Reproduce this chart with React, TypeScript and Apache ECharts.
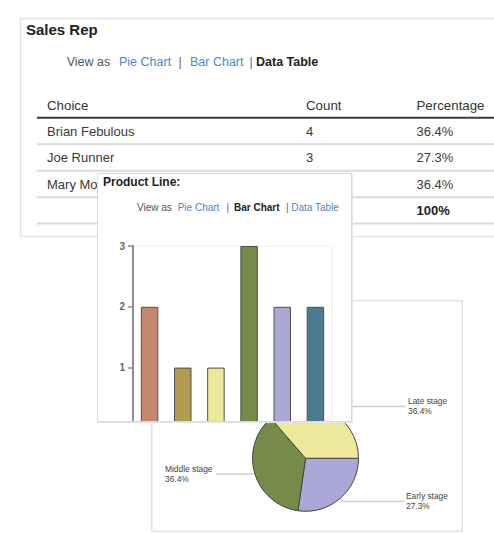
import React, { useEffect, useRef } from 'react';
import * as echarts from 'echarts';

const FONT = '"Liberation Sans", Arial, Helvetica, sans-serif';

// ---- Sales Rep data table ----
const tableHeaders = ['Choice', 'Count', 'Percentage'];
const repNames = ['Brian Febulous', 'Joe Runner', 'Mary Mo'];
const repCounts = [4, 3, 4];
const totalLabel = '100%';

// ---- Product Line bar chart ----
const productLines = ['Line 1', 'Line 2', 'Line 3', 'Line 4', 'Line 5', 'Line 6'];
const productCounts = [2, 1, 1, 3, 2, 2];
const productColors = ['#c4896a', '#b39b50', '#ede89a', '#758b4a', '#aba8d8', '#4a7b8f'];

// ---- Stage pie chart ----
const stageNames = ['Early stage', 'Middle stage', 'Late stage'];
const stageCounts = [3, 4, 4];
const stageColors = ['#aba8d8', '#758b4a', '#ede89a'];

const LINK = '#4f86c6';
const SEP = '#8a4f80';
const TXT = '#3a3a3a';

function useChart(option: any) {
  const ref = useRef<HTMLDivElement>(null);
  useEffect(() => {
    if (!ref.current) return;
    const chart = echarts.init(ref.current, undefined, { renderer: 'svg' });
    chart.setOption(option);
    return () => chart.dispose();
  }, []);
  return ref;
}

function txt(text: string, x: number, y: number, opts: any = {}) {
  return {
    type: 'text',
    x,
    y,
    style: {
      text,
      fill: opts.fill || TXT,
      fontSize: opts.fontSize || 13,
      fontWeight: opts.fontWeight || 'normal',
      fontFamily: FONT,
      align: 'left',
      verticalAlign: 'middle',
      textAlign: 'left',
      textVerticalAlign: 'middle',
    },
  };
}

function hline(x1: number, x2: number, y: number, color: string, w: number) {
  return {
    type: 'line',
    shape: { x1, y1: y, x2, y2: y },
    style: { stroke: color, lineWidth: w },
  };
}

function viewAs(x: number[], y: number, size: number, active: number) {
  const labels = ['View as', 'Pie Chart', '|', 'Bar Chart', '|', 'Data Table'];
  return labels.map((l, i) => {
    let fill = '#555';
    let fontWeight = 'normal';
    if (i === 1 || i === 3 || i === 5) fill = LINK;
    if (i === 2 || i === 4) fill = SEP;
    if (i === active) { fill = '#222'; fontWeight = 'bold'; }
    return txt(l, x[i], y, { fill, fontSize: size, fontWeight });
  });
}

function TablePanel() {
  const total = repCounts.reduce((a, b) => a + b, 0);
  const colX = [47, 306, 416.5];
  const rowY0 = 131;
  const step = 26.5;
  const elements: any[] = [
    {
      type: 'rect',
      shape: { x: 20.5, y: 18.5, width: 490, height: 218 },
      style: { fill: '#fff', stroke: '#e2e2e2', lineWidth: 1.5 },
    },
    txt('Sales Rep', 26, 29, { fontSize: 15, fontWeight: 'bold', fill: '#1e1e1e' }),
    ...viewAs([66.7, 119, 178.5, 190, 249.5, 256], 61.5, 12.5, 5),
    ...tableHeaders.map((h, i) => txt(h, colX[i], 105, { fontSize: 13.3, fill: '#333' })),
    hline(37, 494, 117.7, '#3a3a3a', 2),
  ];
  repNames.forEach((n, i) => {
    const y = rowY0 + i * step;
    elements.push(txt(n, colX[0], y));
    elements.push(txt(String(repCounts[i]), colX[1], y));
    elements.push(txt(((repCounts[i] / total) * 100).toFixed(1) + '%', colX[2], y));
    elements.push(hline(37, 494, y + 13.3, '#dadada', 2));
  });
  const ty = rowY0 + repNames.length * step;
  elements.push(txt(totalLabel, colX[2], ty, { fontWeight: 'bold', fill: '#222' }));
  elements.push(hline(37, 494, ty + 13, '#dadada', 2));

  const ref = useChart({ animation: false, graphic: { elements } });
  return <div ref={ref} style={{ position: 'absolute', left: 0, top: 0, width: 494, height: 240 }} />;
}

function measure(text: string, font: string) {
  const c = document.createElement('canvas').getContext('2d');
  if (!c) return text.length * 5;
  c.font = font;
  return c.measureText(text).width;
}

function PiePanel() {
  const total = stageCounts.reduce((a, b) => a + b, 0);
  const labelFont = `8.4px ${FONT}`;
  const data = stageNames.map((n, i) => ({
    name: n,
    value: stageCounts[i],
    itemStyle: { color: stageColors[i] },
    label: { rich: { a: { width: Math.ceil(measure(n, labelFont)) + 1 } } },
  }));
  const ref = useChart({
    animation: false,
    series: [
      {
        type: 'pie',
        center: [154.5, 158.3],
        radius: 53,
        startAngle: 0,
        clockwise: true,
        avoidLabelOverlap: true,
        data,
        itemStyle: { borderColor: '#444', borderWidth: 1 },
        label: {
          show: true,
          position: 'outside',
          alignTo: 'edge',
          edgeDistance: 14,
          distanceToLabelLine: 2,
          formatter: (p: any) =>
            `{a|${p.name}}\n{a|${((p.value / total) * 100).toFixed(1)}%}`,
          rich: {
            a: { fontSize: 8.4, lineHeight: 10, color: '#444', fontFamily: FONT, align: 'left' },
          },
        },
        labelLine: {
          show: true,
          length: 4,
          length2: 10,
          smooth: false,
          lineStyle: { color: '#d0d0d0', width: 1.5 },
        },
        emphasis: { disabled: true },
      },
    ],
  });
  return (
    <div
      style={{
        position: 'absolute',
        left: 151,
        top: 300,
        width: 312,
        height: 232,
        background: '#fff',
        boxShadow: 'inset 0 0 0 1.5px #e2e2e2',
      }}
    >
      <div ref={ref} style={{ position: 'absolute', left: 0, top: 0, width: 312, height: 232 }} />
    </div>
  );
}

function BarPanel() {
  const ref = useChart({
    animation: false,
    graphic: {
      elements: [
        txt('Product Line:', 6, 9, { fontSize: 12, fontWeight: 'bold', fill: '#1e1e1e' }),
        ...viewAs([40, 80.7, 129.5, 137, 189, 194.3], 34.5, 10, 3),
      ],
    },
    grid: {
      left: 36,
      top: 73,
      width: 199,
      height: 182.4,
      show: true,
      borderColor: '#f0f0f0',
      borderWidth: 1,
      backgroundColor: '#fff',
    },
    xAxis: {
      type: 'category',
      data: productLines,
      axisLine: { show: false },
      axisTick: { show: false },
      axisLabel: { show: false },
    },
    yAxis: {
      type: 'value',
      min: 0,
      max: 3,
      interval: 1,
      axisLine: { show: true, lineStyle: { color: '#8e8e8e', width: 2 } },
      axisTick: { show: true, length: 5, lineStyle: { color: '#8e8e8e', width: 1.5 } },
      axisLabel: {
        color: '#666',
        fontSize: 10,
        fontWeight: 'bold',
        fontFamily: FONT,
        margin: 8,
        showMinLabel: false,
      },
      splitLine: { show: false },
    },
    series: [
      {
        type: 'bar',
        barWidth: 17.5,
        data: productCounts.map((v, i) => ({ value: v, itemStyle: { color: productColors[i] } })),
        itemStyle: { borderColor: '#505050', borderWidth: 1 },
        emphasis: { disabled: true },
      },
    ],
  });
  return (
    <div
      style={{
        position: 'absolute',
        left: 97,
        top: 173,
        width: 255,
        height: 249,
        background: '#fff',
        border: '1px solid #d9d9d9',
        boxShadow: '1px 1px 0 #e6e6e6',
        boxSizing: 'border-box',
        overflow: 'hidden',
      }}
    >
      <div ref={ref} style={{ position: 'absolute', left: -1, top: -1, width: 255, height: 275 }} />
    </div>
  );
}

export default function App() {
  return (
    <div
      style={{
        position: 'fixed',
        left: 0,
        top: 0,
        width: 494,
        height: 534,
        background: '#fff',
        overflow: 'hidden',
      }}
    >
      <TablePanel />
      <PiePanel />
      <BarPanel />
    </div>
  );
}
